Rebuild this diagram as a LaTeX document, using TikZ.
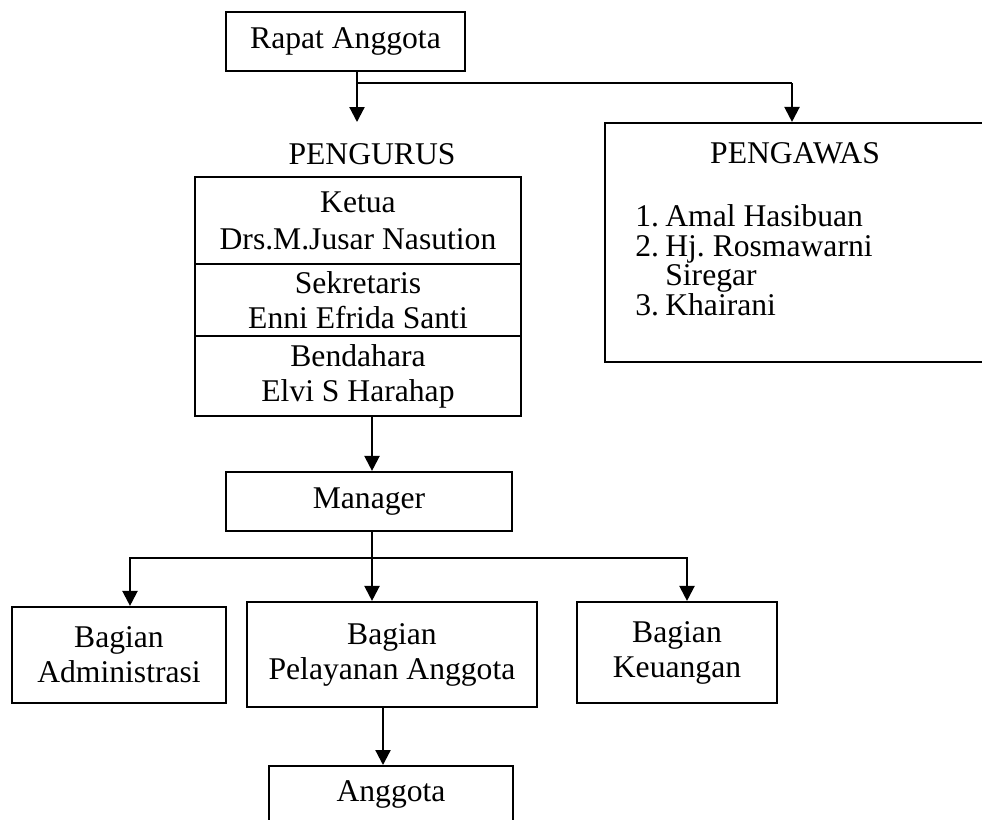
\documentclass[tikz,border=0pt]{standalone}
\usepackage{fontspec}
\setmainfont{Liberation Serif}
\usetikzlibrary{arrows.meta}
\frenchspacing

\begin{document}
\begin{tikzpicture}[x=0.02cm,y=-0.02cm,
  box/.style={draw,line width=1.25pt,align=center,inner sep=0pt,font=\fontsize{18pt}{20pt}\selectfont},
  txt/.style={font=\fontsize{18pt}{20pt}\selectfont},
  line/.style={line width=1.25pt},
  arr/.style={line width=1.25pt,-{Triangle[length=0.3cm,width=0.3cm]}}]
\useasboundingbox (0,0) rectangle (982,819);
\clip (0,0) rectangle (982,819);
% top level
\node[box,minimum width=4.78cm,minimum height=1.18cm] (rapat) at (345.5,41.5) {Rapat Anggota};
\node[txt,inner sep=0pt,anchor=north,text height=0.85cm] (pengurus) at (372,122) {PENGURUS};
\node[box,minimum width=6.52cm,minimum height=1.74cm] (ketua) at (358,220.5) {Ketua\\[1pt]Drs.M.Jusar Nasution};
\node[box,minimum width=6.52cm,minimum height=1.44cm] (sekretaris) at (358,300) {Sekretaris\\Enni Efrida Santi};
\node[box,minimum width=6.52cm,minimum height=1.6cm] (bendahara) at (358,376) {Bendahara\\Elvi S Harahap};
% pengawas
\node[box,minimum width=7.9cm,minimum height=4.78cm] (pengawas) at (802.5,242.5) {};
\node[txt] (pengawastitle) at (795,153) {PENGAWAS};
\node[font=\fontsize{18pt}{16.8pt}\selectfont,align=left,anchor=west,inner sep=0pt] (pengawaslist) at (635,260)
  {\makebox[0.6cm][l]{1.}Amal Hasibuan\\\makebox[0.6cm][l]{2.}Hj. Rosmawarni\\\hspace*{0.6cm}Siregar\\\makebox[0.6cm][l]{3.}Khairani};
% manager and bagian
\node[box,minimum width=5.72cm,minimum height=1.18cm] (manager) at (369,501.5) {Manager};
\node[box,minimum width=4.28cm,minimum height=1.92cm] (admin) at (119,655) {Bagian\\Administrasi};
\node[box,minimum width=5.8cm,minimum height=2.1cm] (pelayanan) at (392,654.5) {Bagian\\Pelayanan Anggota};
\node[box,minimum width=4cm,minimum height=2.02cm] (keuangan) at (677,652.5) {Bagian\\Keuangan};
\node[box,minimum width=4.88cm,anchor=north,text height=0.7cm,text depth=1.2cm] (anggota) at (391,765) {Anggota};
% connectors
\coordinate (jr) at (357,83);
\coordinate (jp) at (792,83);
\coordinate (jm) at (372,558);
\coordinate (ja) at (130,558);
\coordinate (jk) at (687,558);
\coordinate (jb) at (383,736);
\draw[line] (rapat.south -| jr) -- (jr) -- (jp);
\draw[arr] (jr) -- (jr |- pengurus.north);
\draw[arr] (jp) -- (jp |- pengawas.north);
\draw[arr] (bendahara.south -| jm) -- (manager.north -| jm);
\draw[line] (manager.south -| jm) -- (jm);
\draw[arr] (jm) -- (pelayanan.north -| jm);
\draw[arr] (jm) -- (ja) -- (admin.north -| ja);
\draw[arr] (jm) -- (jk) -- (keuangan.north -| jk);
\draw[arr] (pelayanan.south -| jb) -- (anggota.north -| jb);
\end{tikzpicture}
\end{document}
